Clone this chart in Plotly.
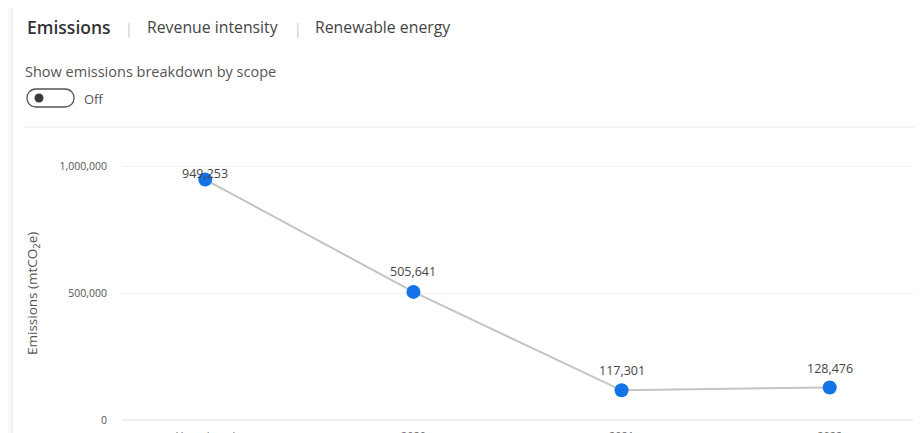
import plotly.graph_objects as go

categories = ["Unassigned", "2020", "2021", "2022"]
emissions = [949253, 505641, 117301, 128476]
y_ticks = [0, 500000, 1000000]
y_tick_labels = ["0", "500,000", "1,000,000"]

# the page body adds an 8px margin; layout coordinates below are given in window pixels
OFF = 8
W, H = 923, 433
ML, MR, MT, MB = 122 - OFF, 923 - (913 - OFF), 154 - OFF, 433 - (420 - OFF)
PW, PH = W - ML - MR, H - MT - MB


def px(x):
    return (x - OFF - ML) / PW


def py(y):
    return (H - MB - (y - OFF)) / PH


FONT = "Open Sans, Noto Sans, sans-serif"

fig = go.Figure()
fig.add_trace(go.Scatter(
    x=categories, y=emissions, mode="lines+markers",
    line=dict(color="#c4c4c4", width=2),
    marker=dict(color="#1473E6", size=14),
    hoverinfo="skip", cliponaxis=False,
))

label_shift = [6, 20, 20, 19]
for i, (v, s) in enumerate(zip(emissions, label_shift)):
    fig.add_annotation(x=i, y=v, xref="x", yref="y", text=f"{v:,}", showarrow=False, yshift=s,
                       font=dict(family=FONT, size=12.5, color="#444"))

shapes = []
shapes.append(dict(type="rect", xref="paper", yref="paper", x0=px(0), x1=px(12), y0=py(0), y1=py(H + 20),
                   fillcolor="#f7f7f7", line=dict(width=0), layer="below"))
shapes.append(dict(type="line", xref="paper", yref="paper", x0=px(12), x1=px(12), y0=py(0), y1=py(H + 20),
                   line=dict(color="#e6e6e6", width=1)))
shapes.append(dict(type="line", xref="paper", yref="paper", x0=px(24), x1=px(935), y0=py(127), y1=py(127),
                   line=dict(color="#e8e8e8", width=1)))
path = (f"M {px(36)},{py(89)} L {px(65)},{py(89)} C {px(77)},{py(89)} {px(77)},{py(107)} {px(65)},{py(107)} "
        f"L {px(36)},{py(107)} C {px(24)},{py(107)} {px(24)},{py(89)} {px(36)},{py(89)} Z")
shapes.append(dict(type="path", xref="paper", yref="paper", path=path,
                   line=dict(color="#555", width=1.3), fillcolor="white"))
shapes.append(dict(type="circle", xref="paper", yref="paper", x0=px(34.5), x1=px(43.5), y0=py(102.5), y1=py(93.5),
                   fillcolor="#3a3a3a", line=dict(width=0)))

annots = [
    dict(text="Emissions", x=px(25), y=py(27), font=dict(family=FONT, size=17.5, color="#333", weight=600)),
    dict(text="|", x=px(123), y=py(28), font=dict(family=FONT, size=14, color="#c8c8c8")),
    dict(text="Revenue intensity", x=px(145), y=py(27), font=dict(family=FONT, size=15.8, color="#444")),
    dict(text="|", x=px(292), y=py(28), font=dict(family=FONT, size=14, color="#c8c8c8")),
    dict(text="Renewable energy", x=px(313), y=py(27), font=dict(family=FONT, size=15.8, color="#444")),
    dict(text="Show emissions breakdown by scope", x=px(23), y=py(71), font=dict(family=FONT, size=14.5, color="#555")),
    dict(text="Off", x=px(82), y=py(99), font=dict(family=FONT, size=13, color="#555")),
]
for a in annots:
    fig.add_annotation(xref="paper", yref="paper", xanchor="left", yanchor="middle", showarrow=False, **a)

fig.add_annotation(xref="paper", yref="paper", x=px(33), y=py(294), text="Emissions (mtCO<sub>2</sub>e)",
                   textangle=-90, showarrow=False, xanchor="center", yanchor="middle",
                   font=dict(family=FONT, size=13.5, color="#555"))

fig.update_layout(
    width=W, height=H,
    margin=dict(l=ML, r=MR, t=MT, b=MB, autoexpand=False),
    paper_bgcolor="white", plot_bgcolor="white",
    showlegend=False, shapes=shapes,
    xaxis=dict(type="category", range=[-0.4, 3.4], showgrid=False, zeroline=False, showline=False,
               ticks="", ticklabelstandoff=8, tickfont=dict(family=FONT, size=11, color="#666"),
               automargin=False, fixedrange=True),
    yaxis=dict(range=[0, 1050000], tickvals=y_ticks, ticktext=y_tick_labels, showgrid=True,
               gridcolor="#efefef", gridwidth=1, zeroline=True, zerolinecolor="#efefef", showline=False,
               ticks="", ticklabelstandoff=14, tickfont=dict(family=FONT, size=10.5, color="#555"),
               automargin=False, fixedrange=True),
)

fig.write_html("out.html")
